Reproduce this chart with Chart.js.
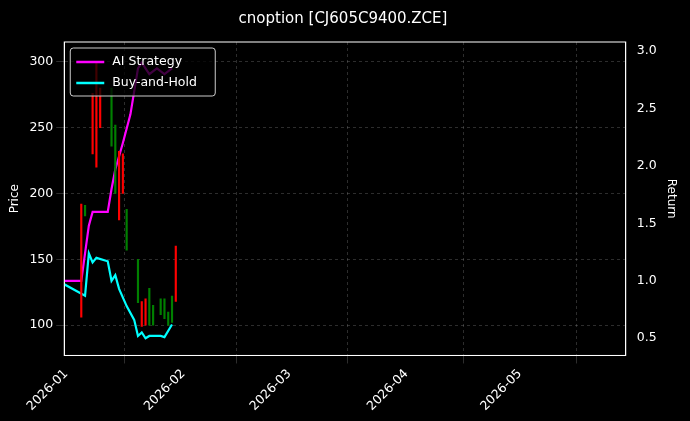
<!DOCTYPE html>
<html><head><meta charset="utf-8">
<script src="https://cdn.jsdelivr.net/npm/chart.js@4"></script>
<style>html,body{margin:0;background:#000;}#wrap{width:690px;height:421px;}</style>
</head><body><div id="wrap"><canvas id="c"></canvas></div>
<script>
// days since 2026-01-01
const candleDays = [4, 5, 7, 8, 9, 12, 13, 14, 15, 16, 19, 20, 21, 22, 23, 25, 26, 27, 28, 29];
const candleHigh = [192, 191, 276, 300, 280, 280, 252, 232, 230, 188, 150, 118, 120, 128, 115, 120, 120, 110, 122, 160];
const candleLow  = [106, 183, 230, 220, 250, 236, 200, 180, 200, 157, 117, 99, 100, 100, 100, 108, 105, 100, 102, 118];
const candleUp   = [0, 1, 0, 0, 0, 1, 1, 0, 0, 1, 1, 0, 0, 1, 1, 1, 1, 1, 1, 0];

const stratDays = [-0.5, 4, 6, 7, 11, 12, 13, 15, 17, 19, 20, 22, 24, 26, 28];
const stratVals = [1.0, 1.0, 1.48, 1.6, 1.6, 1.8, 1.97, 2.2, 2.45, 2.85, 2.9, 2.8, 2.85, 2.8, 2.85];
const bhDays = [-0.5, 5, 6, 7, 8, 11, 12, 13, 14, 16, 18, 19, 20, 21, 22, 25, 26, 28];
const bhVals = [0.97, 0.87, 1.24, 1.16, 1.2, 1.17, 1.0, 1.05, 0.93, 0.78, 0.66, 0.52, 0.55, 0.5, 0.52, 0.52, 0.51, 0.62];

const monthTicks = [0, 31, 59, 90, 120];
const monthLabels = ['2026-01', '2026-02', '2026-03', '2026-04', '2026-05'];

const grid = { color: 'rgba(150,150,150,0.5)', lineWidth: 0.6 };
const border = { color: '#fff', dash: [3, 3] };
Chart.defaults.font.family = 'DejaVu Sans';
Chart.defaults.color = '#fff';

// frame + legend inside the plot, matplotlib style
const frameLegend = {
    id: 'frameLegend',
    afterDraw(chart) {
        const { ctx, chartArea: a } = chart;
        ctx.save();
        ctx.strokeStyle = '#fff'; ctx.lineWidth = 1; ctx.setLineDash([]);
        ctx.strokeRect(a.left, a.top, a.right - a.left, a.bottom - a.top);
        const x = a.left + 6, y = a.top + 6, w = 145, h = 48;
        ctx.fillStyle = 'rgba(0,0,0,0.75)';
        ctx.strokeStyle = '#ccc';
        ctx.beginPath(); ctx.roundRect(x, y, w, h, 3); ctx.fill(); ctx.stroke();
        ctx.font = '12.5px DejaVu Sans'; ctx.textBaseline = 'middle';
        [['AI Strategy', '#ff00ff'], ['Buy-and-Hold', '#00ffff']].forEach(([t, c], i) => {
            const ly = y + 14 + i * 21;
            ctx.strokeStyle = c; ctx.lineWidth = 2.5;
            ctx.beginPath(); ctx.moveTo(x + 6, ly); ctx.lineTo(x + 34, ly); ctx.stroke();
            ctx.fillStyle = '#fff'; ctx.fillText(t, x + 42, ly);
        });
        ctx.restore();
    }
};

new Chart(document.getElementById('c'), {
    data: {
        datasets: [
            {
                type: 'bar', label: 'candles', yAxisID: 'y',
                data: candleDays.map((d, i) => ({ x: d, y: [candleLow[i], candleHigh[i]] })),
                backgroundColor: candleUp.map(u => u ? '#008000' : '#ff0000'),
                barThickness: 1.5, grouped: false
            },
            {
                type: 'line', label: 'AI Strategy', yAxisID: 'y1',
                data: stratDays.map((d, i) => ({ x: d, y: stratVals[i] })),
                borderColor: '#ff00ff', borderWidth: 2.2, pointRadius: 0
            },
            {
                type: 'line', label: 'Buy-and-Hold', yAxisID: 'y1',
                data: bhDays.map((d, i) => ({ x: d, y: bhVals[i] })),
                borderColor: '#00ffff', borderWidth: 2.2, pointRadius: 0
            }
        ]
    },
    options: {
        responsive: true, maintainAspectRatio: false, animation: false,
        layout: { padding: { left: 4, right: 8, top: 6, bottom: 4 } },
        plugins: {
            title: { display: true, text: 'cnoption [CJ605C9400.ZCE]', font: { size: 15, weight: 'normal' }, padding: { top: 4, bottom: 14 } },
            legend: { display: false },
            tooltip: { enabled: false }
        },
        scales: {
            x: {
                type: 'linear', min: -0.5, max: 148, offset: false,
                afterBuildTicks: ax => { ax.ticks = monthTicks.map(v => ({ value: v })); },
                ticks: { callback: (v, i) => monthLabels[i], maxRotation: 45, minRotation: 45, font: { size: 12.5 } },
                grid: grid, border: border
            },
            y: {
                position: 'left', min: 77, max: 315,
                afterBuildTicks: ax => { ax.ticks = [100, 150, 200, 250, 300].map(v => ({ value: v })); },
                title: { display: true, text: 'Price', font: { size: 12 } },
                ticks: { font: { size: 12.5 } }, grid: grid, border: border
            },
            y1: {
                position: 'right', min: 0.35, max: 3.08,
                afterBuildTicks: ax => { ax.ticks = [0.5, 1, 1.5, 2, 2.5, 3].map(v => ({ value: v })); },
                title: { display: true, text: 'Return', font: { size: 12 } },
                ticks: { font: { size: 12.5 }, callback: v => v.toFixed(1) }, grid: { display: false }, border: { color: '#fff' }
            }
        }
    },
    plugins: [frameLegend]
});
</script></body></html>
